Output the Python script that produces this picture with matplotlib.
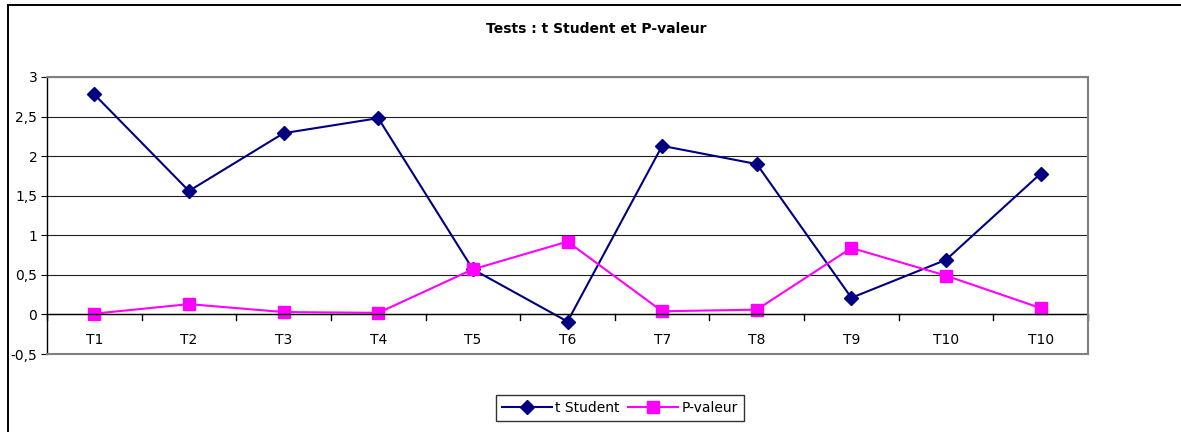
import matplotlib
matplotlib.use("Agg")
import matplotlib.pyplot as plt
from matplotlib.patches import Rectangle

categories = ["T1", "T2", "T3", "T4", "T5", "T6", "T7", "T8", "T9", "T10", "T10"]
t_student = [2.78, 1.56, 2.29, 2.48, 0.57, -0.09, 2.13, 1.90, 0.21, 0.69, 1.78]
p_valeur = [0.01, 0.13, 0.03, 0.02, 0.57, 0.92, 0.04, 0.06, 0.84, 0.49, 0.08]
y_ticks = [-0.5, 0, 0.5, 1, 1.5, 2, 2.5, 3]
y_tick_labels = ["-0,5", "0", "0,5", "1", "1,5", "2", "2,5", "3"]

plt.rcParams['font.family'] = ['DejaVu Sans']

W, H = 1181, 432
fig = plt.figure(figsize=(W / 100, H / 100), dpi=100)
fig.patches.append(Rectangle((8 / W, -0.1), 1.2, (H - 5) / H + 0.1, transform=fig.transFigure,
                             fill=False, edgecolor='#000000', linewidth=1.4))

x0, x1 = 47, 1088
ytop, ybot = 77, 354
ax = fig.add_axes([x0 / W, 1 - ybot / H, (x1 - x0) / W, (ybot - ytop) / H])

x = list(range(len(categories)))
ax.plot(x, t_student, color='#000080', marker='D', markersize=7, linewidth=1.5, label='t Student')
ax.plot(x, p_valeur, color='#FF00FF', marker='s', markersize=9, linewidth=1.5, label='P-valeur')

ax.set_xlim(-0.5, len(categories) - 0.5)
ax.set_ylim(-0.5, 3)
ax.set_yticks(y_ticks)
ax.set_yticklabels(y_tick_labels)
ax.tick_params(axis='y', direction='out', length=4, labelsize=10, pad=3, color='black')
ax.grid(axis='y', color='#202020', linewidth=0.8)
ax.set_axisbelow(True)

ax.set_xticks([])
ax.axhline(0, color='black', linewidth=1.0)
for b in range(len(categories) + 1):
    xb = b - 0.5
    ax.plot([xb, xb], [0, -0.065], color='black', linewidth=1.0, clip_on=False)
for i, c in enumerate(categories):
    ax.text(i, -0.32, c, ha='center', va='center', fontsize=10)

for s in ['top', 'right', 'bottom']:
    ax.spines[s].set_color('#808080')
    ax.spines[s].set_linewidth(1.5)
ax.spines['left'].set_color('black')
ax.spines['left'].set_linewidth(1.0)

fig.text(596 / W, 1 - 29 / H, "Tests : t Student et P-valeur", ha='center', va='center',
         fontsize=10, fontweight='bold')

leg = fig.legend(loc='center', bbox_to_anchor=(620 / W, 1 - 408 / H), ncol=2, fontsize=10,
                 frameon=True, fancybox=False, edgecolor='black', borderpad=0.45,
                 handlelength=3.6, columnspacing=0.6, handletextpad=0.25, borderaxespad=0)
leg.get_frame().set_linewidth(1.0)

fig.savefig("out.png", dpi=100)
